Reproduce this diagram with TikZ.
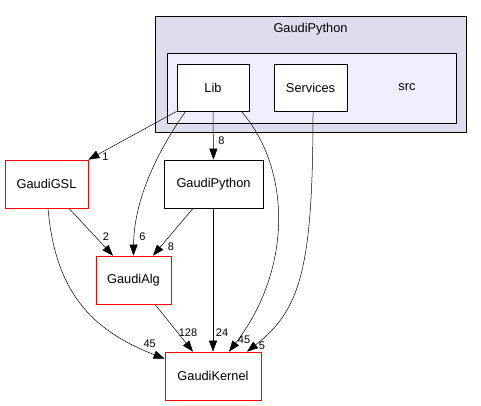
\documentclass[tikz,border=0pt]{standalone}
\usepackage{fontspec}
\setmainfont{Liberation Sans}
\usetikzlibrary{arrows.meta}
\definecolor{clusterOuter}{HTML}{DDDDEE}
\definecolor{clusterInner}{HTML}{EEEEFF}
\begin{document}
\begin{tikzpicture}
		[x=1pt,y=-1pt,
			lineDecorate/.style={-{Triangle[length=11pt,width=8pt]},line width=0.5pt},
			nodeDecorate/.style={shape=rectangle,draw,line width=0.7pt,fill=white,
				font=\fontsize{12.8}{14}\selectfont,inner sep=0pt},
			labelDecorate/.style={inner sep=0pt,font=\fontsize{11}{12}\selectfont},
			clusterDecorate/.style={draw,line width=0.7pt}]
		\useasboundingbox (0,0) rectangle (481,405);
		% clusters
		\draw[clusterDecorate,fill=clusterOuter] (155,16) rectangle (466,132);
		\node[labelDecorate,font=\fontsize{12.8}{14}\selectfont] (titleouter) at (310.5,29) {GaudiPython};
		\draw[clusterDecorate,fill=clusterInner] (167,53) rectangle (456,123);
		\node[labelDecorate,font=\fontsize{12.8}{14}\selectfont] (titleinner) at (407,87.5) {src};
		% directories
		\foreach \nodename/\x/\y/\w/\h/\colour/\text in {
				lib/213/87.5/72/47/black/Lib, services/310.5/87.5/73/47/black/Services,
				gsl/46.5/184/83/48/red/GaudiGSL, gpython/213.5/184/99/48/black/GaudiPython,
				alg/133.5/280/75/48/red/GaudiAlg, kernel/213/376/96/48/red/GaudiKernel}
			{
				\node (\nodename) at (\x,\y) [nodeDecorate,draw=\colour,
					minimum width=\w pt,minimum height=\h pt] {\text};
			}
		% straight dependencies
		\path
		\foreach \startnode/\sx/\endnode/\ex/\count/\dx/\dy in {
				lib.south west/0/gsl.north east/0/1/17/-3,
				lib.south/0/gpython.north/0/8/8/-19,
				gsl.south/22.5/alg.north/-20.5/2/-7/-19,
				gpython.south/-20.5/alg.north/19.5/8/18/-9,
				alg.south/21.5/kernel.north/-20/128/-5/-19,
				gpython.south/-0.5/kernel.north/0/24/9/-19}
			{
				([xshift=\sx]\startnode) edge[lineDecorate] node[labelDecorate,pos=1,shift={(\dx,\dy)}] {\count} ([xshift=\ex]\endnode)
			};
		% curved dependencies
		\draw[lineDecorate] ([xshift=9]lib.south west) .. controls (162,145) and (134,195) .. (alg.north)
			node[labelDecorate,pos=1,shift={(9,-19)}] {6};
		\draw[lineDecorate] ([xshift=-8]lib.south east) .. controls (292,170) and (292,270) .. ([xshift=16]kernel.north)
			node[labelDecorate,pos=1,shift={(15,-12)}] {45};
		\draw[lineDecorate] ([xshift=2.5]services.south) .. controls (313,270) and (300,310) .. ([xshift=34]kernel.north)
			node[labelDecorate,pos=1,shift={(15,-6)}] {5};
		\draw[lineDecorate] ([xshift=1.5]gsl.south) .. controls (55,290) and (90,330) .. ([yshift=-7]kernel.north west)
			node[labelDecorate,pos=1,shift={(-15,-15)}] {45};
	\end{tikzpicture}
\end{document}
